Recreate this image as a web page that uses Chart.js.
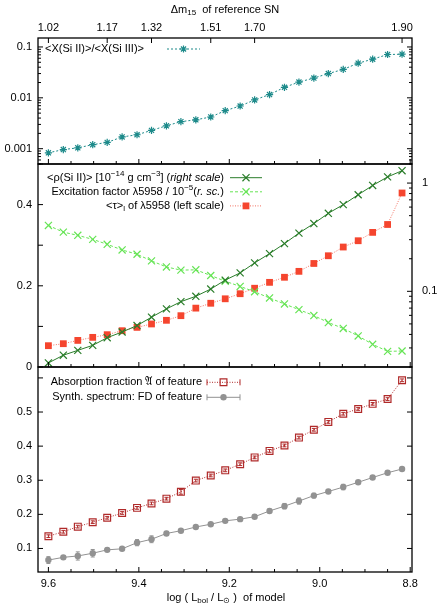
<!DOCTYPE html>
<html>
<head>
<meta charset="utf-8">
<script src="https://cdn.jsdelivr.net/npm/chart.js@4.4.1/dist/chart.umd.min.js"></script>
<style>
html, body { margin: 0; padding: 0; background: #fff; }
#wrap { position: relative; width: 442px; height: 608px; }
canvas { position: absolute; left: 0; top: 0; }
</style>
</head>
<body>
<div id="wrap">
  <canvas id="c1" width="442" height="608"></canvas>
  <canvas id="c2" width="442" height="608"></canvas>
  <canvas id="c3" width="442" height="608"></canvas>
</div>
<script>
// log(Lbol/Lsun) of each model (x axis, shared by all panels)
const logL = [9.600, 9.567, 9.535, 9.502, 9.470, 9.437, 9.404, 9.372, 9.339, 9.307,
              9.274, 9.241, 9.209, 9.176, 9.144, 9.111, 9.078, 9.046, 9.013, 8.981,
              8.948, 8.915, 8.883, 8.850, 8.818];
const xTicks = [9.6, 9.4, 9.2, 9.0, 8.8];
const xMinorTicks = [9.55, 9.5, 9.45, 9.35, 9.3, 9.25, 9.15, 9.1, 9.05, 8.95, 8.9, 8.85];

// top axis: dm15 of reference SN, placed at model positions
const dm15Pos = [9.600, 9.470, 9.372, 9.241, 9.144, 8.818];
const dm15Labels = ['1.02', '1.17', '1.32', '1.51', '1.70', '1.90'];

// panel 1
const xRatio = [0.00083, 0.00096, 0.00104, 0.0012, 0.00133, 0.0017, 0.00188, 0.00229, 0.00282, 0.0034,
                0.0037, 0.0042, 0.0056, 0.0069, 0.0091, 0.0116, 0.0161, 0.0204, 0.0245, 0.030,
                0.0362, 0.048, 0.0575, 0.071, 0.072];
const yTicks1 = [0.001, 0.01, 0.1];
const yLabels1 = ['0.001', '0.01', '0.1'];

// panel 2
const rhoSi = [0.0218, 0.0257, 0.0285, 0.0317, 0.0373, 0.0421, 0.0483, 0.0577, 0.0688, 0.0803,
               0.090, 0.105, 0.127, 0.148, 0.183, 0.223, 0.276, 0.345, 0.423, 0.526,
               0.632, 0.78, 0.95, 1.14, 1.30];
const excitation = [0.406, 0.352, 0.329, 0.302, 0.272, 0.241, 0.220, 0.191, 0.168, 0.157,
                    0.158, 0.140, 0.124, 0.111, 0.0991, 0.0868, 0.0764, 0.0678, 0.0597, 0.0515,
                    0.0454, 0.0387, 0.0324, 0.0279, 0.0281];
const tauL = [0.0525, 0.0574, 0.0655, 0.073, 0.0796, 0.0894, 0.0976, 0.106, 0.115, 0.1264,
              0.145, 0.157, 0.168, 0.1805, 0.194, 0.2085, 0.221, 0.2356, 0.255, 0.274,
              0.2955, 0.311, 0.3316, 0.351, 0.4286];
const yTicks2 = [0, 0.2, 0.4];
const yLabels2 = ['0', '0.2', '0.4'];
const y2Ticks2 = [0.1, 1];
const y2Labels2 = ['0.1', '1'];

// panel 3
const absFrac = [0.136, 0.149, 0.164, 0.177, 0.190, 0.204, 0.219, 0.232, 0.246, 0.266,
                 0.299, 0.314, 0.329, 0.347, 0.367, 0.386, 0.402, 0.425, 0.448, 0.471,
                 0.495, 0.509, 0.524, 0.538, 0.593];
const absErr = [0.004, 0.004, 0.004, 0.004, 0.004, 0.004, 0.004, 0.004, 0.004, 0.007,
                0.004, 0.004, 0.004, 0.004, 0.004, 0.004, 0.004, 0.004, 0.004, 0.004,
                0.004, 0.004, 0.004, 0.004, 0.004];
const synthFD = [0.066, 0.074, 0.078, 0.086, 0.096, 0.099, 0.117, 0.127, 0.144, 0.152,
                 0.163, 0.171, 0.181, 0.186, 0.193, 0.210, 0.224, 0.239, 0.255, 0.267,
                 0.280, 0.294, 0.308, 0.322, 0.333];
const synthErr = [0.010, 0.005, 0.012, 0.011, 0.005, 0.004, 0.009, 0.010, 0.006, 0.004,
                  0.004, 0.004, 0.004, 0.004, 0.004, 0.005, 0.008, 0.009, 0.007, 0.005,
                  0.008, 0.005, 0.005, 0.004, 0.004];
const yTicks3 = [0.1, 0.2, 0.3, 0.4, 0.5];
const yLabels3 = ['0.1', '0.2', '0.3', '0.4', '0.5'];

const X_MIN = 8.796, X_MAX = 9.623;
const FAM = '"Liberation Sans", Arial, sans-serif';
const TEAL = '#1d8a8a', DKGREEN = '#2a7d2a', LTGREEN = '#66e455',
      RED = '#f5452e', REDLINE = '#f27060', DKRED = '#b02a2a', GRAY = '#929292';

Chart.defaults.font.family = FAM;
Chart.defaults.font.size = 11;
Chart.defaults.color = '#000';

function pts(ys) { return logL.map((x, i) => ({ x: x, y: ys[i] })); }

function logMinor(lo, hi) {
  const out = [];
  for (let e = Math.floor(Math.log10(lo)); e <= Math.ceil(Math.log10(hi)); e++) {
    for (let k = 2; k <= 9; k++) {
      const v = k * Math.pow(10, e);
      if (v >= lo && v <= hi) out.push(v);
    }
  }
  return out;
}

function segFont(s) {
  return (s.it ? 'italic ' : '') + (s.sup || s.sub ? '8px ' : '11px ') + FAM;
}
function drawRich(ctx, segs, x, y, align) {
  ctx.textBaseline = 'middle';
  ctx.textAlign = 'left';
  ctx.fillStyle = '#000';
  let w = 0;
  for (const s of segs) { ctx.font = segFont(s); w += ctx.measureText(s.t).width; }
  let cx = align === 'right' ? x - w : align === 'center' ? x - w / 2 : x;
  for (const s of segs) {
    ctx.font = segFont(s);
    ctx.fillText(s.t, cx, y + (s.sup ? -4 : s.sub ? 3 : 0));
    cx += ctx.measureText(s.t).width;
  }
}

function line(ctx, x1, y1, x2, y2) {
  ctx.beginPath(); ctx.moveTo(x1, y1); ctx.lineTo(x2, y2); ctx.stroke();
}

// gnuplot style frame, inward ticks, legends, titles, error bars
const gpFrame = {
  id: 'gpFrame',
  beforeDatasetsDraw(chart) {
    const ctx = chart.ctx;
    chart.data.datasets.forEach((ds, di) => {
      if (!ds.errorBars) return;
      const meta = chart.getDatasetMeta(di);
      const ys = chart.scales[meta.yAxisID];
      ctx.save();
      ctx.strokeStyle = ds.errorColor;
      ctx.lineWidth = 1;
      meta.data.forEach((p, i) => {
        const v = ds.data[i].y, e = ds.errorBars[i];
        const y1 = ys.getPixelForValue(v - e), y2 = ys.getPixelForValue(v + e);
        line(ctx, p.x, y1, p.x, y2);
        line(ctx, p.x - 2, y1, p.x + 2, y1);
        line(ctx, p.x - 2, y2, p.x + 2, y2);
      });
      ctx.restore();
    });
  },
  afterDraw(chart, args, o) {
    const ctx = chart.ctx, a = chart.chartArea;
    ctx.save();
    ctx.strokeStyle = '#000';
    ctx.lineWidth = 1;
    ctx.setLineDash([]);
    const xs = chart.scales.x;
    xTicks.forEach(v => { const p = xs.getPixelForValue(v); line(ctx, p, a.bottom, p, a.bottom - 5); });
    xMinorTicks.forEach(v => { const p = xs.getPixelForValue(v); line(ctx, p, a.bottom, p, a.bottom - 3); });
    if (o.top) {
      const s = chart.scales[o.top];
      dm15Pos.forEach(v => { const p = s.getPixelForValue(v); line(ctx, p, a.top, p, a.top + 5); });
    }
    if (o.left) {
      const s = chart.scales[o.left.scale];
      o.left.major.forEach(v => {
        const p = s.getPixelForValue(v);
        line(ctx, a.left, p, a.left + 5, p);
        if (o.mirror) line(ctx, a.right, p, a.right - 5, p);
      });
      (o.left.minor || []).forEach(v => {
        const p = s.getPixelForValue(v);
        line(ctx, a.left, p, a.left + 3, p);
        if (o.mirror) line(ctx, a.right, p, a.right - 3, p);
      });
    }
    if (o.right) {
      const s = chart.scales[o.right.scale];
      o.right.major.forEach(v => { const p = s.getPixelForValue(v); line(ctx, a.right, p, a.right - 5, p); });
      (o.right.minor || []).forEach(v => { const p = s.getPixelForValue(v); line(ctx, a.right, p, a.right - 3, p); });
    }
    ctx.lineWidth = 1.3;
    ctx.strokeRect(a.left, a.top, a.right - a.left, a.bottom - a.top);

    // legend
    if (o.legend) {
      const L = o.legend;
      L.items.forEach((it, i) => {
        const y = L.y + i * L.dy;
        drawRich(ctx, it.text, L.textRight, y, 'right');
        ctx.strokeStyle = it.color;
        ctx.lineWidth = 1;
        ctx.setLineDash(it.dash || []);
        line(ctx, L.x0, y, L.x1, y);
        ctx.setLineDash([]);
        if (it.caps) {
          line(ctx, L.x0, y - 3, L.x0, y + 3);
          line(ctx, L.x1, y - 3, L.x1, y + 3);
        }
        ctx.fillStyle = it.fill;
        ctx.strokeStyle = it.mcolor || it.color;
        ctx.lineWidth = it.bw;
        Chart.helpers.drawPoint(ctx, { pointStyle: it.style, radius: it.r, rotation: 0, borderWidth: it.bw }, (L.x0 + L.x1) / 2, y);
      });
    }
    if (o.titles) o.titles.forEach(t => drawRich(ctx, t.segs, t.x, t.y, 'center'));
    ctx.restore();
  }
};
Chart.register(gpFrame);

const noGrid = { display: false, drawTicks: false };

function xAxis(show, h) {
  return {
    type: 'linear', min: X_MIN, max: X_MAX, reverse: true, display: show,
    grid: noGrid, border: { display: false },
    afterBuildTicks: s => { s.ticks = xTicks.map(v => ({ value: v })); },
    afterFit: s => { s.height = h; },
    ticks: { padding: 5, autoSkip: false, maxRotation: 0, callback: v => v.toFixed(1) }
  };
}
function yAxis(type, min, max, ticks, labels, pos, w, pad) {
  return {
    type: type, min: min, max: max, position: pos,
    grid: noGrid, border: { display: false },
    afterBuildTicks: s => { s.ticks = ticks.map(v => ({ value: v })); },
    afterFit: s => { s.width = w; },
    ticks: { padding: pad, autoSkip: false, callback: (v, i) => labels[i] }
  };
}

// ---- panel 1 ----
new Chart(document.getElementById('c1'), {
  type: 'line',
  data: {
    datasets: [{
      data: pts(xRatio), borderColor: TEAL, borderWidth: 1, borderDash: [2, 2],
      pointStyle: 'star', pointRadius: 3.6, pointBorderColor: TEAL, pointBorderWidth: 1.2,
      pointBackgroundColor: TEAL
    }]
  },
  options: {
    responsive: false, animation: false,
    layout: { padding: { top: 0, bottom: 444, left: 0, right: 30 } },
    plugins: {
      legend: { display: false }, tooltip: { enabled: false },
      gpFrame: {
        top: 'x2', mirror: true,
        left: { scale: 'y', major: yTicks1, minor: logMinor(0.0005, 0.15) },
        legend: { textRight: 144, x0: 167, x1: 200, y: 49, dy: 14, items: [
          { text: [{ t: '<X(Si II)>/<X(Si III)>' }], color: TEAL, dash: [2, 2], style: 'star', r: 3.6, bw: 1.2, fill: TEAL }
        ] },
        titles: [{ x: 225, y: 10, segs: [{ t: 'Δm' }, { t: '15', sub: true }, { t: '  of reference SN' }] }]
      }
    },
    scales: {
      x: xAxis(false, 0),
      x2: {
        type: 'linear', position: 'top', min: X_MIN, max: X_MAX, reverse: true,
        grid: noGrid, border: { display: false },
        afterBuildTicks: s => { s.ticks = dm15Pos.map(v => ({ value: v })); },
        afterFit: s => { s.height = 38; },
        ticks: { padding: 3, autoSkip: false, maxRotation: 0, callback: (v, i) => dm15Labels[i] }
      },
      y: yAxis('logarithmic', 0.0005, 0.15, yTicks1, yLabels1, 'left', 38, 6)
    }
  }
});

// ---- panel 2 ----
new Chart(document.getElementById('c2'), {
  type: 'line',
  data: {
    datasets: [{
      data: pts(rhoSi), yAxisID: 'y2', borderColor: DKGREEN, borderWidth: 1,
      pointStyle: 'crossRot', pointRadius: 5, pointBorderColor: DKGREEN, pointBorderWidth: 1.2
    }, {
      data: pts(excitation), yAxisID: 'y2', borderColor: LTGREEN, borderWidth: 1, borderDash: [3, 2],
      pointStyle: 'crossRot', pointRadius: 5, pointBorderColor: LTGREEN, pointBorderWidth: 1.2
    }, {
      data: pts(tauL), yAxisID: 'y', borderColor: REDLINE, borderWidth: 1, borderDash: [1, 1.5],
      pointStyle: 'rect', pointRadius: 4.8, pointBorderColor: RED, pointBorderWidth: 0,
      pointBackgroundColor: RED
    }]
  },
  options: {
    responsive: false, animation: false,
    layout: { padding: { top: 164, bottom: 241, left: 0, right: 0 } },
    plugins: {
      legend: { display: false }, tooltip: { enabled: false },
      gpFrame: {
        left: { scale: 'y', major: [0, 0.1, 0.2, 0.3, 0.4, 0.5] },
        right: { scale: 'y2', major: y2Ticks2, minor: logMinor(0.02, 1.5) },
        legend: { textRight: 224, x0: 230, x1: 262, y: 177.7, dy: 14.1, items: [
          { text: [{ t: '<ρ(Si II)> [10' }, { t: '−14', sup: true }, { t: ' g cm' }, { t: '−3', sup: true },
                   { t: '] (' }, { t: 'right scale', it: true }, { t: ')' }],
            color: DKGREEN, style: 'crossRot', r: 5, bw: 1.2, fill: DKGREEN },
          { text: [{ t: 'Excitation factor λ5958 / 10' }, { t: '−5', sup: true }, { t: '(' },
                   { t: 'r. sc.', it: true }, { t: ')' }],
            color: LTGREEN, dash: [3, 2], style: 'crossRot', r: 5, bw: 1.2, fill: LTGREEN },
          { text: [{ t: '<τ>' }, { t: 'l', sub: true }, { t: ' of λ5958 (left scale)' }],
            color: REDLINE, mcolor: RED, dash: [1, 1.5], style: 'rect', r: 4.8, bw: 0, fill: RED }
        ] }
      }
    },
    scales: {
      x: xAxis(false, 0),
      y: yAxis('linear', 0, 0.5, yTicks2, yLabels2, 'left', 38, 6),
      y2: yAxis('logarithmic', 0.02, 1.5, y2Ticks2, y2Labels2, 'right', 30, 10)
    }
  }
});

// ---- panel 3 ----
new Chart(document.getElementById('c3'), {
  type: 'line',
  data: {
    datasets: [{
      data: pts(absFrac), borderColor: DKRED, borderWidth: 1, borderDash: [1, 1.5],
      pointStyle: 'rect', pointRadius: 4.8, pointBorderColor: DKRED, pointBorderWidth: 1.2,
      pointBackgroundColor: 'rgba(0,0,0,0)', errorBars: absErr, errorColor: DKRED
    }, {
      data: pts(synthFD), borderColor: GRAY, borderWidth: 1,
      pointStyle: 'circle', pointRadius: 3.2, pointBorderColor: GRAY, pointBorderWidth: 0,
      pointBackgroundColor: GRAY, errorBars: synthErr, errorColor: GRAY
    }]
  },
  options: {
    responsive: false, animation: false,
    layout: { padding: { top: 367, bottom: 0, left: 0, right: 30 } },
    plugins: {
      legend: { display: false }, tooltip: { enabled: false },
      gpFrame: {
        mirror: true,
        left: { scale: 'y', major: [0.1, 0.2, 0.3, 0.4, 0.5, 0.6] },
        legend: { textRight: 202, x0: 207, x1: 240, y: 382.3, dy: 15, items: [
          { text: [{ t: 'Absorption fraction 𝔄 of feature' }], color: DKRED, dash: [1, 1.5], caps: true,
            style: 'rect', r: 4.8, bw: 1.2, fill: 'rgba(0,0,0,0)' },
          { text: [{ t: 'Synth. spectrum: FD of feature' }], color: GRAY, caps: true,
            style: 'circle', r: 3.2, bw: 0, fill: GRAY }
        ] },
        titles: [{ x: 226, y: 598, segs: [{ t: 'log ( L' }, { t: 'bol', sub: true }, { t: ' / L' },
                                          { t: '⊙', sub: true }, { t: ' )  of model' }] }]
      }
    },
    scales: {
      x: xAxis(true, 36),
      y: yAxis('linear', 0.031, 0.632, yTicks3, yLabels3, 'left', 38, 6)
    }
  }
});
</script>
</body>
</html>
